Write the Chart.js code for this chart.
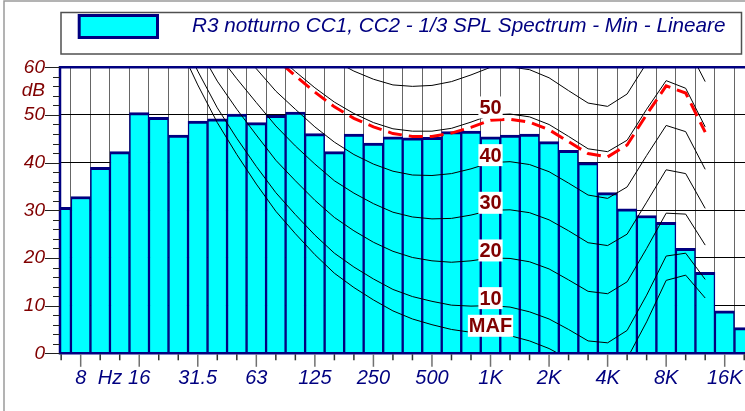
<!DOCTYPE html>
<html>
<head>
<meta charset="utf-8">
<script src="https://cdn.jsdelivr.net/npm/chart.js@4.4.1/dist/chart.umd.min.js"></script>
<style>
  html, body { margin: 0; padding: 0; background: #fff; overflow: hidden; }
  canvas { display: block; }
</style>
</head>
<body>
<canvas id="spectrumChart" width="745" height="411"></canvas>
<script>
// 1/3 octave bands 6.3 Hz .. 20 kHz
const bands = ['6.3', '8', '10', '12.5', '16', '20', '25', '31.5', '40', '50', '63', '80', '100',
    '125', '160', '200', '250', '315', '400', '500', '630', '800', '1K', '1.25K', '1.6K', '2K',
    '2.5K', '3.15K', '4K', '5K', '6.3K', '8K', '10K', '12.5K', '16K', '20K'];
const tickLabels = ['', '8', '', '', '16', '', '', '31.5', '', '', '63', '', '', '125', '', '', '250', '',
    '', '500', '', '', '1K', '', '', '2K', '', '', '4K', '', '', '8K', '', '', '16K', ''];

// R3 notturno CC1, CC2 - Min (dB)
const splMin = [30.6, 32.9, 39.0, 42.3, 50.5, 49.5, 45.8, 48.7, 49.2, 50.2, 48.4, 49.9, 50.6, 46.1,
    42.3, 46.0, 44.1, 45.4, 45.2, 45.3, 46.5, 46.6, 45.4, 45.8, 46.0, 44.4, 42.6, 40.0, 33.7,
    30.3, 28.9, 27.5, 22.0, 17.0, 8.9, 5.4];

// isophones, 20 Hz .. 12.5 kHz
const isoFirstBand = '20';
const isoMAF = [74.3, 65.0, 56.3, 48.4, 41.7, 35.5, 29.8, 25.1, 20.7, 16.8, 13.8, 11.2, 8.9, 7.2, 6.0,
    5.0, 4.4, 4.2, 3.7, 2.6, 1.0, -1.2, -3.6, -3.9, -1.1, 6.6, 15.3, 16.4, 11.6];
const iso10 = [76.8, 67.7, 59.2, 51.5, 45.1, 39.2, 33.7, 29.1, 24.8, 21.0, 18.1, 15.6, 13.4, 11.9, 10.9,
    10.1, 9.9, 10.0, 9.7, 8.7, 7.2, 5.0, 2.6, 2.2, 4.8, 12.2, 20.4, 21.0, 15.5];
const iso20 = [81.3, 72.5, 64.3, 57.1, 51.2, 45.8, 40.5, 36.2, 32.1, 28.5, 25.7, 23.3, 21.4, 20.1, 19.4,
    19.1, 19.4, 20.0, 19.9, 19.2, 17.7, 15.4, 13.0, 12.5, 15.0, 22.0, 29.4, 29.2, 22.7];
const iso30 = [86.0, 77.6, 69.7, 62.9, 57.6, 52.6, 47.7, 43.5, 39.7, 36.2, 33.6, 31.4, 29.6, 28.6, 28.2,
    28.3, 29.0, 30.0, 30.1, 29.5, 28.0, 25.7, 23.2, 22.6, 25.0, 31.7, 38.5, 37.7, 30.4];
const iso40 = [91.0, 82.9, 75.4, 69.0, 64.3, 59.7, 55.0, 51.2, 47.5, 44.3, 41.7, 39.7, 38.2, 37.4, 37.3,
    37.7, 38.7, 40.0, 40.2, 39.6, 38.1, 35.7, 33.2, 32.5, 34.9, 41.5, 47.8, 46.5, 38.6];
const iso50 = [96.2, 88.5, 81.3, 75.4, 71.3, 67.1, 62.7, 59.1, 55.7, 52.7, 50.3, 48.4, 47.1, 46.6, 46.6,
    47.2, 48.5, 50.0, 50.2, 49.6, 48.0, 45.5, 42.9, 42.3, 44.7, 51.2, 57.2, 55.6, 47.5];
const iso60 = [101.7, 94.4, 87.6, 82.1, 78.6, 74.8, 70.6, 67.3, 64.2, 61.4, 59.2, 57.5, 56.3, 56.0, 56.2,
    57.0, 58.4, 60.0, 60.1, 59.5, 57.8, 55.1, 52.5, 51.8, 54.4, 60.9, 66.7, 65.0, 57.0];
// isophone touching the spectrum (red dashed)
const isoMax = [95.6, 87.9, 80.7, 74.7, 70.5, 66.3, 61.8, 58.2, 54.8, 51.7, 49.3, 47.5, 46.1, 45.5, 45.5,
    46.2, 47.4, 48.9, 49.1, 48.5, 46.9, 44.4, 41.9, 41.2, 43.7, 50.1, 56.1, 54.6, 46.4];

const isoLabels = ['50', '40', '30', '20', '10', 'MAF'];
const isoLabelLevels = [50, 40, 30, 20, 10, 4.2];

const legendText = 'R3 notturno CC1, CC2 - 1/3 SPL Spectrum - Min - Lineare';
const FONT = "'Liberation Sans', Arial, sans-serif";
const NAVY = '#000080';
const MAROON = '#800000';

const isoOffset = bands.indexOf(isoFirstBand);
const toPoints = arr => arr.map((v, k) => ({ x: isoOffset + k, y: v }));

function isoLine(values) {
    return {
        type: 'line',
        data: toPoints(values),
        borderColor: '#000',
        borderWidth: 1,
        pointRadius: 0,
        tension: 0,
        order: 1,
        clip: 0
    };
}

const decorations = {
    id: 'decorations',
    beforeDraw(chart) {
        const ctx = chart.ctx;
        ctx.save();
        ctx.fillStyle = '#fff';
        ctx.fillRect(0, 0, chart.width, chart.height);

        // outer frame
        ctx.strokeStyle = '#9a9a9a';
        ctx.lineWidth = 1.5;
        ctx.beginPath();
        ctx.moveTo(4, chart.height);
        ctx.lineTo(4, 1);
        ctx.lineTo(chart.width, 1);
        ctx.stroke();

        // legend
        ctx.strokeStyle = '#505050';
        ctx.lineWidth = 1.5;
        ctx.strokeRect(61, 12.5, 680.5, 41.5);
        ctx.fillStyle = '#00ffff';
        ctx.fillRect(79.2, 15.5, 78.3, 22);
        ctx.strokeStyle = NAVY;
        ctx.lineWidth = 3;
        ctx.strokeRect(79.2, 15.5, 78.3, 22);
        ctx.font = 'italic 20.7px ' + FONT;
        ctx.fillStyle = NAVY;
        ctx.textBaseline = 'alphabetic';
        ctx.fillText(legendText, 192, 32);
        ctx.restore();
    },
    afterDatasetsDraw(chart) {
        const { ctx, chartArea: a, scales: { x, y } } = chart;
        ctx.save();

        // isophone labels at 1 kHz
        ctx.font = 'bold 20px ' + FONT;
        ctx.textAlign = 'center';
        ctx.textBaseline = 'middle';
        const cx = x.getPixelForValue(bands.indexOf('1K'));
        isoLabels.forEach((t, k) => {
            const cy = y.getPixelForValue(isoLabelLevels[k]) - 7.5;
            const w = ctx.measureText(t).width + 2;
            ctx.fillStyle = '#fff';
            ctx.fillRect(cx - w / 2, cy - 11, w, 22);
            ctx.fillStyle = MAROON;
            ctx.fillText(t, cx, cy + 1);
        });

        // plot frame
        ctx.strokeStyle = NAVY;
        ctx.lineWidth = 2.5;
        ctx.beginPath();
        ctx.moveTo(a.right + 2, a.top);
        ctx.lineTo(a.left, a.top);
        ctx.lineTo(a.left, a.bottom);
        ctx.lineTo(a.right + 2, a.bottom);
        ctx.stroke();

        // tick marks
        ctx.lineWidth = 1.5;
        bands.forEach((b, i) => {
            const px = x.getPixelForValue(i);
            const major = tickLabels[i] !== '';
            ctx.strokeStyle = major ? '#707070' : '#303030';
            ctx.beginPath();
            ctx.moveTo(px, a.bottom + 1);
            ctx.lineTo(px, a.bottom + (major ? 13.5 : 7));
            ctx.stroke();
        });
        ctx.lineWidth = 1;
        ctx.strokeStyle = '#202020';
        for (let v = 0; v <= 60; v += 2) {
            const py = Math.round(y.getPixelForValue(v)) + 0.5;
            ctx.beginPath();
            ctx.moveTo(a.left - (v % 10 === 0 ? 15 : 7), py);
            ctx.lineTo(a.left, py);
            ctx.stroke();
        }

        // "Hz" unit between the 8 and 16 labels, same line as the tick labels
        const items = x.getLabelItems ? x.getLabelItems() : [];
        const ref = items.find(it => it.label === '8');
        ctx.font = 'italic 20px ' + FONT;
        ctx.fillStyle = NAVY;
        ctx.textAlign = 'center';
        const hzX = x.getPixelForValue(2.5);
        if (ref) {
            ctx.textBaseline = ref.options.textBaseline;
            ctx.fillText('Hz', hzX, ref.options.translation[1] + (ref.textOffset || 0));
        } else {
            ctx.textBaseline = 'middle';
            ctx.fillText('Hz', hzX, a.bottom + 26);
        }
        ctx.restore();
    }
};

const tickValue = c => (c && c.tick ? c.tick.value : NaN);

const chart = new Chart(document.getElementById('spectrumChart'), {
    type: 'bar',
    data: {
        datasets: [
            {
                type: 'bar',
                label: legendText,
                data: splMin.map((v, i) => ({ x: i, y: v })),
                backgroundColor: '#00ffff',
                borderColor: NAVY,
                borderWidth: { top: 3, left: 1.5, right: 1.5, bottom: 0 },
                barPercentage: 1,
                categoryPercentage: 1,
                order: 3,
                clip: 0
            },
            isoLine(isoMAF),
            isoLine(iso10),
            isoLine(iso20),
            isoLine(iso30),
            isoLine(iso40),
            isoLine(iso50),
            isoLine(iso60),
            {
                type: 'line',
                data: toPoints(isoMax),
                borderColor: '#ff0000',
                borderWidth: 3,
                borderDash: [14, 7],
                pointRadius: 0,
                tension: 0,
                order: 0,
                clip: 0
            }
        ]
    },
    options: {
        responsive: false,
        animation: false,
        events: [],
        layout: { padding: { top: 67.3, left: 0, right: 0, bottom: 0 } },
        plugins: {
            legend: { display: false },
            tooltip: { enabled: false }
        },
        scales: {
            x: {
                type: 'linear',
                min: -0.06,
                max: 35.04,
                offset: false,
                afterBuildTicks: s => { s.ticks = bands.map((b, i) => ({ value: i })); },
                afterFit: s => { s.height = 57.7; s.paddingLeft = 0; s.paddingRight = 0; },
                border: { display: false },
                grid: { drawTicks: false, lineWidth: 1, color: '#666' },
                ticks: {
                    autoSkip: false,
                    maxRotation: 0,
                    padding: 13,
                    color: NAVY,
                    font: { family: FONT, size: 20, style: 'italic' },
                    callback: v => tickLabels[v] || ''
                }
            },
            y: {
                min: 0,
                max: 60,
                afterBuildTicks: s => {
                    const t = [];
                    for (let v = 0; v <= 60; v += 2) {
                        t.push({ value: v });
                        if (v === 54) t.push({ value: 55 });
                    }
                    s.ticks = t;
                },
                afterFit: s => { s.width = 60; s.paddingTop = 0; s.paddingBottom = 0; },
                border: { display: false },
                grid: {
                    drawTicks: false,
                    lineWidth: 1,
                    color: c => tickValue(c) % 10 === 0 ? '#000' : 'rgba(0,0,0,0)'
                },
                ticks: {
                    autoSkip: false,
                    padding: 15,
                    color: MAROON,
                    font: { family: FONT, size: 19, style: 'italic' },
                    callback: v => v === 55 ? 'dB' : (v % 10 === 0 ? String(v) : '')
                }
            }
        }
    },
    plugins: [decorations]
});
</script>
</body>
</html>
